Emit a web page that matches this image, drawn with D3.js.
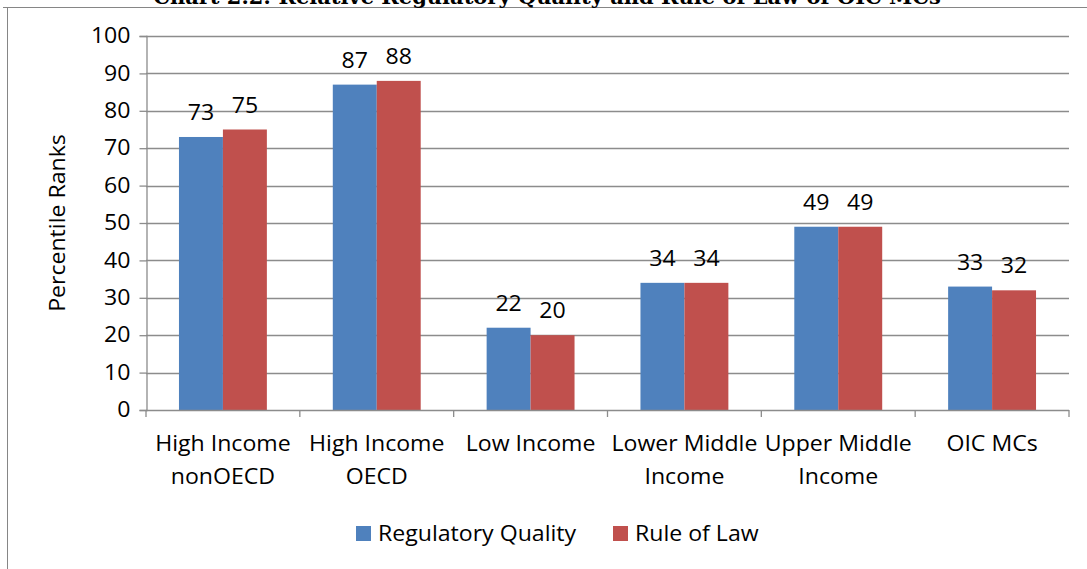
<!DOCTYPE html>
<html>
<head>
<meta charset="utf-8">
<script src="https://cdn.jsdelivr.net/npm/d3@7"></script>
<style>
  html, body { margin: 0; padding: 0; background: #fff; }
  svg { display: block; }
  text { font-family: "Open Sans", Lato, "Liberation Sans", sans-serif; fill: #000; }
</style>
</head>
<body>
<svg id="chart" width="1087" height="569"></svg>
<script>
// Percentile ranks by income group
const categories = [
  ["High Income", "nonOECD"],
  ["High Income", "OECD"],
  ["Low Income"],
  ["Lower Middle", "Income"],
  ["Upper Middle", "Income"],
  ["OIC MCs"]
];
const seriesNames = ["Regulatory Quality", "Rule of Law"];
const regulatoryQuality = [73, 87, 22, 34, 49, 33];
const ruleOfLaw = [75, 88, 20, 34, 49, 32];
const yTicks = [0, 10, 20, 30, 40, 50, 60, 70, 80, 90, 100];
const colors = ["#4F81BD", "#C0504D"];

const series = [regulatoryQuality, ruleOfLaw];
const svg = d3.select("#chart");
const W = 1087, H = 569;
const plot = { left: 146, right: 1069, top: 36, bottom: 410 };
const FS = 21;       // body text size
const SX = 1.1;      // horizontal stretch of the text face

// Places a horizontally stretched text label at (x, y)
function label(parent, x, y, txt, anchor, size) {
  return parent.append("text")
    .attr("transform", `translate(${x},${y}) scale(${SX},1)`)
    .attr("text-anchor", anchor || "middle")
    .style("font-size", (size || FS) + "px")
    .text(txt);
}

// Outer frame (top and left edges visible)
svg.append("line").attr("x1", 3).attr("x2", W).attr("y1", 7.5).attr("y2", 7.5)
  .attr("stroke", "#868686").attr("stroke-width", 1);
svg.append("line").attr("x1", 7.5).attr("x2", 7.5).attr("y1", 7).attr("y2", H)
  .attr("stroke", "#868686").attr("stroke-width", 1);

// Title, clipped by the top edge
svg.append("text")
  .attr("transform", `translate(547,4) scale(1.05,1)`)
  .attr("text-anchor", "middle")
  .style("font-family", "'DejaVu Serif', 'Liberation Serif', serif")
  .style("font-weight", "bold")
  .style("font-size", "20px")
  .text("Chart 2.2: Relative Regulatory Quality and Rule of Law of OIC MCs");

const x0 = d3.scaleBand()
  .domain(d3.range(categories.length))
  .range([plot.left, plot.right])
  .paddingInner(0).paddingOuter(0);

const x1 = d3.scaleBand()
  .domain(d3.range(seriesNames.length))
  .range([0, x0.bandwidth()])
  .paddingOuter(0.75).paddingInner(0);

const y = d3.scaleLinear().domain([0, 100]).range([plot.bottom, plot.top]);

// Gridlines
svg.append("g").selectAll("line").data(yTicks.filter(d => d > 0)).join("line")
  .attr("x1", plot.left).attr("x2", plot.right)
  .attr("y1", d => Math.round(y(d)) + 0.5).attr("y2", d => Math.round(y(d)) + 0.5)
  .attr("stroke", "#8c8c8c").attr("stroke-width", 1.3);

// Y axis
const yAxis = svg.append("g")
  .attr("transform", `translate(${plot.left + 0.5},0)`)
  .call(d3.axisLeft(y).tickValues(yTicks).tickSize(7).tickPadding(9));
yAxis.select(".domain").attr("stroke", "#8c8c8c").attr("stroke-width", 1.3);
yAxis.selectAll(".tick line").attr("stroke", "#8c8c8c").attr("stroke-width", 1.3);
yAxis.selectAll(".tick text")
  .style("font-size", FS + "px")
  .style("font-family", "'Open Sans', Lato, sans-serif")
  .attr("fill", "#000")
  .each(function() {
    const t = d3.select(this);
    const tx = +t.attr("x");
    t.attr("x", 0).attr("transform", `translate(${tx},0) scale(${SX},1)`);
  });

// Bars and value labels
const groups = svg.append("g").selectAll("g").data(categories).join("g")
  .attr("transform", (d, i) => `translate(${x0(i)},0)`);

groups.each(function(c, i) {
  const g = d3.select(this);
  series.forEach((vals, s) => {
    g.append("rect")
      .attr("x", x1(s)).attr("width", x1.bandwidth())
      .attr("y", y(vals[i])).attr("height", y(0) - y(vals[i]))
      .attr("fill", colors[s]);
    label(g, x1(s) + x1.bandwidth() / 2, y(vals[i]) - 17, vals[i]);
  });
});

// X axis
svg.append("line")
  .attr("x1", plot.left).attr("x2", plot.right)
  .attr("y1", plot.bottom + 0.5).attr("y2", plot.bottom + 0.5)
  .attr("stroke", "#8c8c8c").attr("stroke-width", 1.3);
svg.append("g").selectAll("line").data(d3.range(categories.length + 1)).join("line")
  .attr("x1", i => i < categories.length ? x0(i) : plot.right)
  .attr("x2", i => i < categories.length ? x0(i) : plot.right)
  .attr("y1", plot.bottom).attr("y2", plot.bottom + 7)
  .attr("stroke", "#8c8c8c").attr("stroke-width", 1.3);

// Category labels
const catG = svg.append("g");
categories.forEach((lines, i) => {
  const t = label(catG, x0(i) + x0.bandwidth() / 2, 451, null);
  lines.forEach((ln, k) => {
    t.append("tspan").attr("x", 0).attr("dy", k === 0 ? 0 : 33).text(ln);
  });
});

// Y axis title
svg.append("text")
  .attr("transform", `translate(65,223) rotate(-90) scale(${SX},1)`)
  .attr("text-anchor", "middle")
  .style("font-size", FS + "px")
  .text("Percentile Ranks");

// Legend
const legendX = [356, 613];
seriesNames.forEach((name, i) => {
  const g = svg.append("g").attr("transform", `translate(${legendX[i]},526)`);
  g.append("rect").attr("width", 15).attr("height", 15).attr("fill", colors[i]);
  label(g, 22, 15, name, "start");
});
</script>
</body>
</html>
